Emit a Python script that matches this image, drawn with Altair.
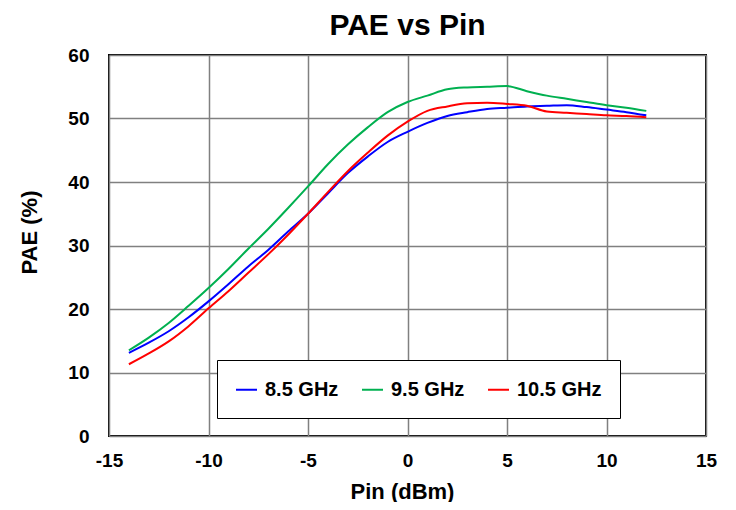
import altair as alt
import pandas as pd

pin = [-14, -13, -12, -11, -10, -9, -8, -7, -6, -5, -4, -3, -2, -1, 0,
       1, 2, 3, 4, 5, 6, 7, 8, 9, 10, 11, 12]
pae_85 = [13.1, 14.7, 16.5, 18.7, 21.2, 23.9, 26.7, 29.3, 32.2, 35.0, 38.2, 41.4, 44.0, 46.3, 47.9,
          49.3, 50.4, 51.0, 51.5, 51.7, 51.9, 52.0, 52.1, 51.8, 51.4, 51.0, 50.5]
pae_95 = [13.5, 15.5, 17.8, 20.5, 23.3, 26.3, 29.5, 32.6, 35.9, 39.3, 42.8, 45.9, 48.6, 51.0, 52.6,
          53.6, 54.6, 54.9, 55.0, 55.1, 54.3, 53.6, 53.1, 52.6, 52.1, 51.7, 51.2]
pae_105 = [11.3, 13.0, 14.9, 17.3, 20.1, 22.8, 25.7, 28.6, 31.7, 35.0, 38.4, 41.7, 44.6, 47.3, 49.5,
           51.2, 51.9, 52.4, 52.5, 52.3, 52.0, 51.1, 50.9, 50.7, 50.5, 50.4, 50.2]
series = ["8.5 GHz", "9.5 GHz", "10.5 GHz"]
colors = ["#0000FF", "#00B050", "#FF0000"]
x_ticks = [-15, -10, -5, 0, 5, 10, 15]
y_ticks = [0, 10, 20, 30, 40, 50, 60]

rows = []
for name, vals in zip(series, [pae_85, pae_95, pae_105]):
    for p, v in zip(pin, vals):
        rows.append({"Pin": p, "PAE": v, "Freq": name})
df = pd.DataFrame(rows)

FONT = "Liberation Sans"

chart = alt.Chart(df).mark_line(strokeWidth=2, interpolate="monotone").encode(
    x=alt.X("Pin:Q", scale=alt.Scale(domain=[-15, 15], nice=False),
            axis=alt.Axis(title="Pin (dBm)", values=x_ticks,
                          labelExpr="datum.value + ''", labelFlush=False,
                          labelPadding=15,
                          titleX=293, titleY=62, titleBaseline="alphabetic")),
    y=alt.Y("PAE:Q", scale=alt.Scale(domain=[0, 60], nice=False),
            axis=alt.Axis(title="PAE (%)", values=y_ticks,
                          labelExpr="datum.value + ''", labelFlush=False,
                          labelPadding=20,
                          titleX=-73, titleY=177, titleBaseline="alphabetic")),
    color=alt.Color("Freq:N", scale=alt.Scale(domain=series, range=colors),
                    legend=alt.Legend(
                        title=None, orient="none", legendX=108, legendY=305,
                        direction="horizontal", symbolType="stroke",
                        symbolSize=441, symbolStrokeWidth=2,
                        labelFontSize=20, labelFont=FONT, labelFontWeight="bold",
                        labelColor="black", labelOffset=7,
                        columnPadding=19, padding=18,
                        strokeColor="black", fillColor="white",
                        cornerRadius=0)),
    detail="Freq:N",
).properties(
    width=597, height=381,
    title=alt.TitleParams("PAE vs Pin", fontSize=30, font=FONT, fontWeight="bold",
                          color="black", anchor="middle", offset=5),
    autosize=alt.AutoSizeParams(type="none"),
    padding={"left": 101, "top": 47, "right": 22, "bottom": 66},
).configure_view(
    stroke="black", strokeWidth=2
).configure_axis(
    grid=True, gridColor="#808080", gridWidth=1.5, gridOpacity=1,
    domain=False, ticks=False,
    labelFont=FONT, labelFontSize=19, labelFontWeight="bold", labelColor="black",
    titleFont=FONT, titleFontSize=22, titleFontWeight="bold", titleColor="black",
)

chart.save("out.html", embed_options={"renderer": "svg", "actions": False})
